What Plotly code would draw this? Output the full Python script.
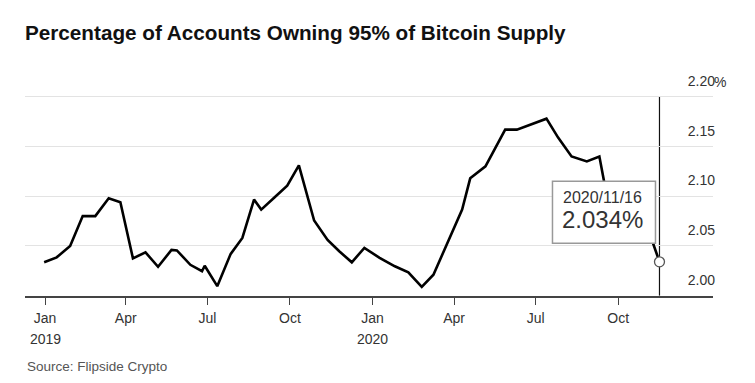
import plotly.graph_objects as go

# ---- data ----
dates = [
    "2018-12-31", "2019-01-14", "2019-01-29", "2019-02-12", "2019-02-26",
    "2019-03-13", "2019-03-26", "2019-04-09", "2019-04-23", "2019-05-07",
    "2019-05-22", "2019-05-28", "2019-06-12", "2019-06-25", "2019-06-28",
    "2019-07-12", "2019-07-27", "2019-08-09", "2019-08-22", "2019-08-30",
    "2019-09-14", "2019-09-28", "2019-10-11", "2019-10-28", "2019-11-12",
    "2019-11-25", "2019-12-09", "2019-12-23", "2020-01-09", "2020-01-26",
    "2020-02-10", "2020-02-25", "2020-03-09", "2020-03-25", "2020-04-10",
    "2020-04-19", "2020-05-06", "2020-05-28", "2020-06-10", "2020-07-13",
    "2020-07-26", "2020-08-10", "2020-08-27", "2020-09-10", "2020-09-15",
    "2020-09-18", "2020-11-06", "2020-11-16",
]
values = [
    2.0335, 2.0385, 2.050, 2.080, 2.080,
    2.098, 2.094, 2.0375, 2.0435, 2.029,
    2.046, 2.0455, 2.031, 2.0245, 2.030,
    2.0095, 2.042, 2.058, 2.0966, 2.0865,
    2.099, 2.1107, 2.131, 2.0755, 2.056,
    2.0446, 2.0335, 2.048, 2.038, 2.0295,
    2.0235, 2.0088, 2.021, 2.053, 2.0865,
    2.118, 2.130, 2.167, 2.167, 2.178,
    2.159, 2.140, 2.135, 2.140, 2.116,
    2.095, 2.060, 2.034,
]
last_date = "2020-11-16"
last_label = "2020/11/16"
last_value_text = "2.034%"

x_tick_vals = ["2019-01-01", "2019-04-01", "2019-07-01", "2019-10-01",
               "2020-01-01", "2020-04-01", "2020-07-01", "2020-10-01"]
x_tick_text = ["Jan", "Apr", "Jul", "Oct", "Jan", "Apr", "Jul", "Oct"]
year_vals = ["2019-01-01", "2020-01-01"]
year_text = ["2019", "2020"]
y_tick_vals = [2.00, 2.05, 2.10, 2.15, 2.20]
y_tick_text = ["2.00", "2.05", "2.10", "2.15", "2.20"]

title = "Percentage of Accounts Owning 95% of Bitcoin Supply"
source = "Source: Flipside Crypto"

FONT = "Liberation Sans, Arial, sans-serif"
W, H = 747, 375

fig = go.Figure()
fig.add_trace(go.Scatter(
    x=dates, y=values, mode="lines",
    line=dict(color="#000000", width=2.6),
    hoverinfo="skip", showlegend=False,
))

fig.add_shape(type="line", xref="x", yref="y",
              x0=last_date, x1=last_date, y0=2.0, y1=2.2,
              line=dict(color="#111111", width=1.2), layer="below")

# callout box, sized in pixels and anchored to the last point
fig.add_shape(type="rect", xref="x", yref="y",
              xsizemode="pixel", ysizemode="pixel",
              xanchor=last_date, yanchor=values[-1],
              x0=-107, x1=-4, y0=18.5, y1=80.5,
              fillcolor="#ffffff", line=dict(color="#999999", width=1.5),
              layer="above")

fig.add_trace(go.Scatter(
    x=[dates[-1]], y=[values[-1]], mode="markers",
    marker=dict(size=10, color="#ffffff", line=dict(color="#555555", width=1.3)),
    hoverinfo="skip", showlegend=False,
))

fig.add_annotation(
    x=last_date, y=values[-1], xref="x", yref="y", text=last_label,
    showarrow=False, xanchor="left", yanchor="middle", xshift=-98, yshift=64,
    font=dict(family=FONT, size=16, color="#333333"),
)
fig.add_annotation(
    x=last_date, y=values[-1], xref="x", yref="y", text=last_value_text,
    showarrow=False, xanchor="left", yanchor="middle", xshift=-99, yshift=42,
    font=dict(family=FONT, size=24, color="#333333"),
)

# "%" hanging after the top tick label
fig.add_annotation(
    x=1, y=2.20, xref="paper", yref="y", text="%",
    showarrow=False, xanchor="left", yanchor="middle", yshift=15, xshift=-1,
    font=dict(family=FONT, size=14, color="#333333"),
)

for yv, yt in zip(year_vals, year_text):
    fig.add_annotation(
        x=yv, y=-0.1856, xref="x", yref="paper", text=yt,
        showarrow=False, xanchor="center", yanchor="middle",
        font=dict(family=FONT, size=14, color="#333333"),
    )

fig.add_annotation(
    x=0, y=-0.3057, xref="paper", yref="paper", text=source,
    showarrow=False, xanchor="left", yanchor="middle",
    font=dict(family=FONT, size=13.5, color="#555555"),
)

fig.update_layout(
    width=W, height=H,
    margin=dict(l=17, r=42, t=59, b=87),
    paper_bgcolor="#ffffff", plot_bgcolor="#ffffff",
    title=dict(text=f"<b>{title}</b>", x=17/W, xanchor="left", xref="container",
               y=1-24.5/H, yanchor="middle", yref="container",
               font=dict(family=FONT, size=20.7, color="#111111")),
    xaxis=dict(
        range=["2018-12-09 16:00", "2021-01-14 16:00"],
        tickvals=x_tick_vals, ticktext=x_tick_text,
        showgrid=False, zeroline=False,
        showline=True, linecolor="#444444", linewidth=1.5,
        ticks="outside", ticklen=7, tickwidth=1, tickcolor="#444444",
        ticklabelstandoff=1,
        tickfont=dict(family=FONT, size=14, color="#333333"),
    ),
    yaxis=dict(
        range=[1.9996, 2.23], side="right",
        tickvals=y_tick_vals, ticktext=y_tick_text,
        ticklabelposition="inside top", ticklabelshift=-6, ticklabelstandoff=-5,
        showgrid=True, gridcolor="#e3e3e3", gridwidth=1.2,
        zeroline=False, showline=False, ticks="",
        tickfont=dict(family=FONT, size=14, color="#333333"),
    ),
)

fig.write_html("out.html")
